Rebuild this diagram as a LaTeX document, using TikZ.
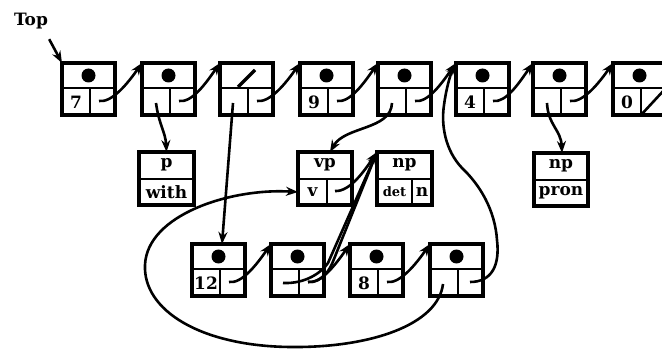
\documentclass[tikz,border=0pt]{standalone}
\usepackage{fontspec}
\setmainfont{DejaVu Serif}
\usetikzlibrary{calc,arrows.meta}

\tikzset{
  cbox/.style={draw, line width=3.4pt, minimum width=53pt, minimum height=52pt,
    inner sep=0pt, outer sep=0pt, anchor=north west},
  div/.style={line width=2.6pt},
  link/.style={line width=2.6pt},
  ptr/.style={link, -{Stealth[length=12pt,width=9pt]}},
  lbl/.style={font=\bfseries\fontsize{17}{17}\selectfont, inner sep=0pt},
  small/.style={font=\bfseries\fontsize{13}{13}\selectfont, inner sep=0pt},
  dot/.style={circle, fill, inner sep=0pt, minimum size=14pt},
}

% a list cell: top field, bottom-left field, bottom-right field
\newcommand\consbox[3]{%
  \node[cbox] (#1) at (#2,#3) {};
  \draw[div] ($(#1.north west)+(0,25)$) -- ($(#1.north east)+(0,25)$);
  \draw[div] ($(#1.north west)+(28,25)$) -- ($(#1.south west)+(28,0)$);
  \coordinate (#1-t) at ($(#1.north west)+(26.5,12.5)$);
  \coordinate (#1-a) at ($(#1.north west)+(14,39)$);
  \coordinate (#1-d) at ($(#1.north west)+(40.5,39)$);
}
% pointer from the right field of one cell to the corner of the next
\newcommand\nextptr[2]{%
  \draw[ptr] ($(#1.north west)+(37,38)$)
    .. controls ($(#1.north west)+(50,40)$) and ($(#2.north west)+(-14,20)$)
    .. (#2.north west);}

\begin{document}
\begin{tikzpicture}[x=1pt,y=-1pt]
\useasboundingbox (0,0) rectangle (662,350);

\node[lbl] (top) at (31,21) {Top};

% main list
\consbox{T1}{62}{63}
\consbox{T2}{142}{63}
\consbox{T3}{220}{63}
\consbox{T4}{300}{63}
\consbox{T5}{378}{63}
\consbox{T6}{456}{63}
\consbox{T7}{533}{63}
\consbox{T8}{613}{63}

\foreach \b in {T1,T2,T4,T5,T6,T7,T8} \node[dot] (\b-o) at (\b-t) {};
\draw[link, line width=3.2pt] ($(T3.north west)+(18,24)$) -- ($(T3.north west)+(35,7)$);
\draw[link] ($(T8.north west)+(28,52)$) -- ($(T8.north west)+(53,25)$);

\node[lbl] (T1-n) at (T1-a) {7};
\node[lbl] (T4-n) at (T4-a) {9};
\node[lbl] (T6-n) at (T6-a) {4};
\node[lbl] (T8-n) at (T8-a) {0};

\draw[ptr] ($(top.south east)+(1,10)$) -- (T1.north west);
\nextptr{T1}{T2}
\nextptr{T2}{T3}
\nextptr{T3}{T4}
\nextptr{T4}{T5}
\nextptr{T5}{T6}
\nextptr{T6}{T7}
\nextptr{T7}{T8}

% second level records
\node[cbox, minimum width=55pt, minimum height=53pt] (P) at (139,152) {};
\draw[div] ($(P.north west)+(0,27)$) -- ($(P.north east)+(0,27)$);
\node[lbl] (P-h) at ($(P.north)+(0,13)$) {p};
\node[lbl] (P-b) at ($(P.north)+(0,40)$) {with};

\node[cbox, minimum width=54pt, minimum height=53pt] (VP) at (298,152) {};
\draw[div] ($(VP.north west)+(0,27)$) -- ($(VP.north east)+(0,27)$);
\draw[div] ($(VP.north west)+(29,27)$) -- ($(VP.south west)+(29,0)$);
\node[lbl] (VP-h) at ($(VP.north)+(0,13)$) {vp};
\node[lbl] (VP-v) at ($(VP.north west)+(14.5,40)$) {v};

\node[cbox, minimum width=55pt, minimum height=53pt] (NP) at (377,152) {};
\draw[div] ($(NP.north west)+(0,27)$) -- ($(NP.north east)+(0,27)$);
\draw[div] ($(NP.north west)+(35,27)$) -- ($(NP.south west)+(35,0)$);
\node[lbl] (NP-h) at ($(NP.north)+(0,13)$) {np};
\node[small] (NP-d) at ($(NP.north west)+(17.5,40)$) {det};
\node[lbl] (NP-n) at ($(NP.north west)+(45,40)$) {n};

\node[cbox, minimum width=54pt, minimum height=53pt] (PR) at (534,153) {};
\draw[div] ($(PR.north west)+(0,27)$) -- ($(PR.north east)+(0,27)$);
\node[lbl] (PR-h) at ($(PR.north)+(0,13)$) {np};
\node[lbl] (PR-b) at ($(PR.north)+(0,40)$) {pron};

% third level list
\consbox{B1}{192}{244}
\consbox{B2}{271}{244}
\consbox{B3}{350}{244}
\consbox{B4}{430}{244}
\foreach \b in {B1,B2,B3,B4} \node[dot] (\b-o) at (\b-t) {};
\node[lbl] (B1-n) at (B1-a) {12};
\node[lbl] (B3-n) at (B3-a) {8};

\nextptr{B1}{B2}
\nextptr{B2}{B3}
\nextptr{B3}{B4}

% downward pointers from the main list
\draw[ptr] ($(T2.north west)+(14,40)$)
  .. controls ($(T2.north west)+(17,62)$) and ($(P.north)+(-1,-20)$) .. (P.north);
\draw[ptr] ($(T3.north west)+(13,40)$) -- ($(B1.north west)+(30,0)$);
\draw[ptr] ($(T5.north west)+(14,40)$)
  .. controls (391,130) and (345,126) .. ($(VP.north west)+(32,0)$);
\draw[ptr] ($(T7.north west)+(14,40)$)
  .. controls (548,125) and (561,130) .. ($(PR.north west)+(28,0)$);

% vp record to np record
\draw[ptr] ($(VP.north west)+(37,39)$)
  .. controls ($(VP.north west)+(52,40)$) and ($(NP.north west)+(-12,18)$) .. (NP.north west);

% third level list to np record
\draw[ptr] ($(B2.north west)+(12,39)$)
  .. controls (306,284) and (322,272) .. (328,263) -- (NP.north west);
\draw[link] ($(B2.north west)+(37,38)$)
  .. controls (322,283) and (330,270) .. (334,259) -- (NP.north west);

% loop back to the v field
\draw[ptr] ($(B4.north west)+(13,40)$)
  .. controls (438,325) and (370,348) .. (290,347)
  .. controls (200,346) and (143,310) .. (145,265)
  .. controls (147,215) and (230,188) .. ($(VP.north west)+(0,40)$);

% loop back up to the main list
\draw[ptr] ($(B4.north west)+(40,38)$)
  .. controls (492,282) and (500,265) .. (497,240)
  .. controls (495,210) and (480,185) .. (462,168)
  .. controls (445,150) and (441,125) .. (444,105)
  .. controls (446,90) and (450,75) .. (T6.north west);

\end{tikzpicture}
\end{document}
